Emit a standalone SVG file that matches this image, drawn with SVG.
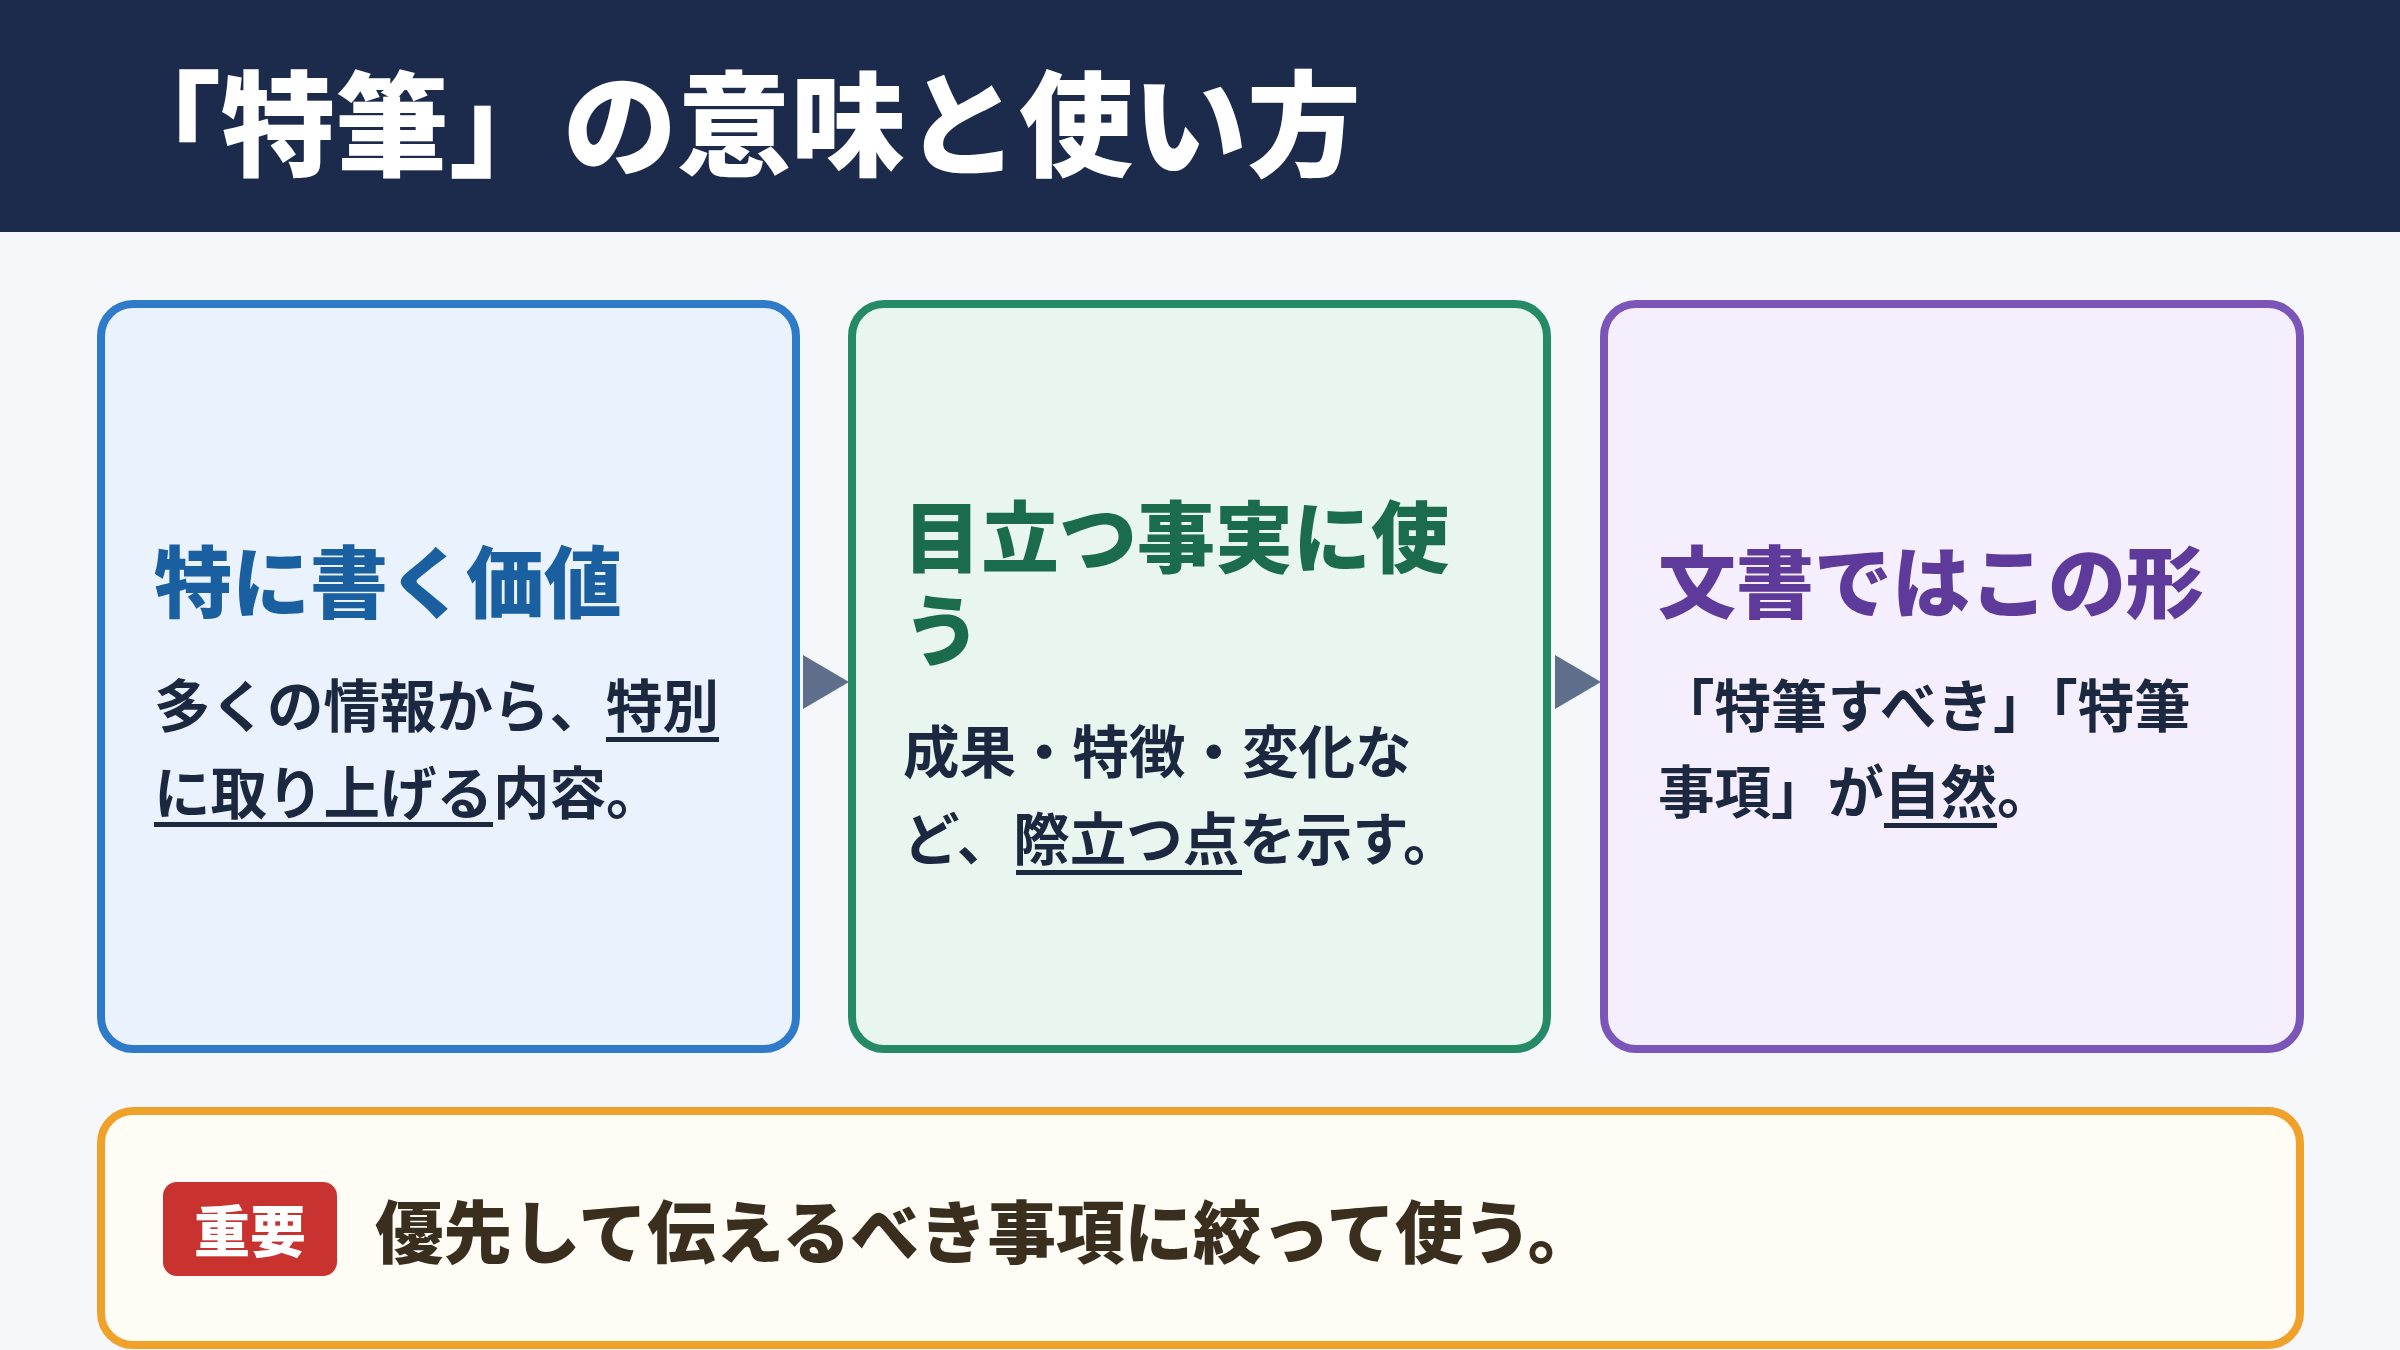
<svg xmlns="http://www.w3.org/2000/svg" width="2400" height="1350" viewBox="0 0 2400 1350">
<style>
text{font-family:"Noto Sans CJK JP","Noto Sans CJK SC",sans-serif}
.title{font-size:114px;font-weight:900;fill:#ffffff}
.h{font-size:78px;font-weight:900}
.b{font-size:56.5px;font-weight:700;fill:#1c2740}
.ul{fill:#1c2740}
.card{stroke-width:8}
</style>
<rect x="0" y="0" width="2400" height="1350" fill="#f5f7fb"/>
<g id="header">
<rect x="0" y="0" width="2400" height="232" fill="#1c2b4b"/>
<text class="title" x="107" y="167">「特筆」の意味と使い方</text>
</g>
<g id="connectors">
<polygon points="803,655 849,682 803,709" fill="#5f6e8a"/>
<polygon points="1555,655 1601,682 1555,709" fill="#5f6e8a"/>
</g>
<g id="node-1">
<rect class="card" x="101" y="304" width="695" height="745" rx="32" fill="#eaf2fe" stroke="#2f7bca"/>
<text class="h" x="154" y="612" fill="#1a5fa0">特に書く価値</text>
<text class="b" x="154" y="727">多くの情報から、特別</text>
<rect class="ul" x="606" y="737" width="113" height="5"/>
<text class="b" x="154" y="814">に取り上げる内容。</text>
<rect class="ul" x="154" y="822" width="339" height="5"/>
</g>
<g id="node-2">
<rect class="card" x="852" y="304" width="695" height="745" rx="32" fill="#e9f6ef" stroke="#258a66"/>
<text class="h" x="903" y="567" fill="#1b6b4d">目立つ事実に使</text>
<text class="h" x="903" y="660" fill="#1b6b4d">う</text>
<text class="b" x="903" y="773">成果・特徴・変化な</text>
<text class="b" x="903" y="860">ど、際立つ点を示す。</text>
<rect class="ul" x="1016" y="870" width="226" height="5"/>
</g>
<g id="node-3">
<rect class="card" x="1604" y="304" width="696" height="745" rx="32" fill="#f4eefd" stroke="#7b56b8"/>
<text class="h" x="1658" y="612" fill="#5e3a9a">文書ではこの形</text>
<text class="b" x="1658" y="727">「特筆すべき」「特筆</text>
<text class="b" x="1658" y="813">事項」が自然。</text>
<rect class="ul" x="1884" y="823" width="113" height="5"/>
</g>
<g id="note">
<rect class="card" x="101" y="1111" width="2199" height="234" rx="32" fill="#fffcf5" stroke="#f0a12a"/>
<rect x="163" y="1182" width="174" height="94" rx="14" fill="#c8332f"/>
<text x="250" y="1252" text-anchor="middle" font-size="56" font-weight="900" fill="#ffffff">重要</text>
<text x="375" y="1258" font-size="68.5" font-weight="900" fill="#3a2e1e">優先して伝えるべき事項に絞って使う。</text>
</g>
</svg>
